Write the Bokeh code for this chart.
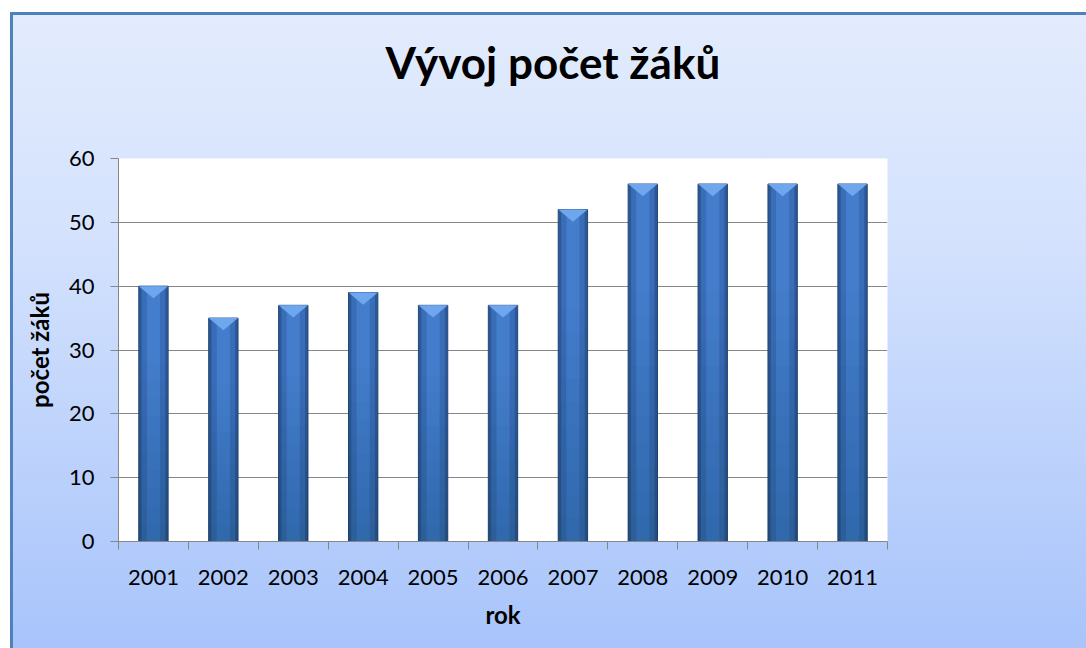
import numpy as np
from bokeh.plotting import figure
from bokeh.models import Range1d, FixedTicker, ColumnDataSource, Title
from bokeh.embed import file_html
from bokeh.resources import INLINE

years = ["2001", "2002", "2003", "2004", "2005", "2006", "2007", "2008", "2009", "2010", "2011"]
counts = [40, 35, 37, 39, 37, 37, 52, 56, 56, 56, 56]
y_ticks = [0, 10, 20, 30, 40, 50, 60]

title_text = "Vývoj počet žáků"
x_label = "rok"
y_label = "počet žáků"

FONT = "Lato"
n = len(years)
xs = np.arange(n, dtype=float)
tops = np.array(counts, dtype=float)

p = figure(width=1076, height=636,
           x_range=Range1d(-0.5, n - 0.5), y_range=Range1d(y_ticks[0], y_ticks[-1]),
           output_backend="svg", toolbar_location=None,
           min_border_left=108, min_border_right=199,
           min_border_top=146, min_border_bottom=107,
           margin=(12, 0, 0, 10),
           styles={"background": "linear-gradient(180deg, #e3ecfd 0%, #d4e2fd 35%, #a8c4fb 100%)",
                   "box-shadow": "inset 3px 3px 0 #4f81bd"})
p.border_fill_color = None
p.background_fill_color = "white"
p.outline_line_color = None

# real title (the built-in title is the outermost "above" panel)
p.title.text = title_text
p.title.text_font = FONT
p.title.text_font_style = "bold"
p.title.text_font_size = "44px"
p.title.text_color = "black"
p.title.align = "left"
p.title.offset = 267
p.title.standoff = 0

# nearly invisible spacer panel between the frame and the title
spacer = Title(text=".", text_font_size="2px", text_color="#d9e5fd",
               text_alpha=0.01, standoff=68)
p.add_layout(spacer, "above")

src = ColumnDataSource(dict(x=xs, top=tops))

# bars: layered to mimic the bevelled gradient
w = 0.42
p.vbar(x="x", top="top", bottom=0, width=w, source=src,
       fill_color="#2c5896", line_color="#234878", line_width=1)
p.vbar(x="x", top="top", bottom=0, width=w * 0.8, source=src,
       fill_color="#3a6db8", line_color=None)
p.vbar(x="x", top="top", bottom=0, width=w * 0.45, source=src,
       fill_color="#4781d0", line_color=None, fill_alpha=0.8)
# darker lower part (soft vertical shading)
for k in range(1, 11):
    p.vbar(x=xs, top=tops * (k / 10.0) * 0.7, bottom=0, width=w, fill_color="#0a1e40",
           fill_alpha=0.018, line_color=None)
# top bevel
bev = 1.9
p.patches(xs=[[x - w / 2, x + w / 2, x] for x in xs],
          ys=[[t, t, t - bev] for t in tops],
          fill_color="#72aaf0", line_color=None, fill_alpha=0.95)

# axes
p.xgrid.visible = False
p.ygrid.ticker = FixedTicker(ticks=y_ticks)
p.ygrid.grid_line_color = "#868686"
p.ygrid.grid_line_width = 1

p.yaxis.ticker = FixedTicker(ticks=y_ticks)
p.yaxis.axis_line_color = "#868686"
p.yaxis.major_tick_line_color = "#868686"
p.yaxis.major_tick_out = 8
p.yaxis.major_tick_in = 0
p.yaxis.minor_tick_line_color = None
p.yaxis.major_label_text_font = FONT
p.yaxis.major_label_text_font_size = "22px"
p.yaxis.major_label_text_color = "black"
p.yaxis.major_label_standoff = 16
p.yaxis.axis_label = y_label
p.yaxis.axis_label_text_font = FONT
p.yaxis.axis_label_text_font_style = "bold"
p.yaxis.axis_label_text_font_size = "24px"
p.yaxis.axis_label_text_color = "black"
p.yaxis.axis_label_standoff = 12

bounds = [i - 0.5 for i in range(n + 1)]
p.xaxis.ticker = FixedTicker(ticks=list(xs), minor_ticks=bounds)
p.xaxis.major_label_overrides = {float(i): years[i] for i in range(n)}
p.xaxis.major_tick_line_color = None
p.xaxis.major_tick_out = 0
p.xaxis.major_tick_in = 0
p.xaxis.minor_tick_line_color = "#868686"
p.xaxis.minor_tick_out = 8
p.xaxis.minor_tick_in = 0
p.xaxis.axis_line_color = "#868686"
p.xaxis.major_label_text_font = FONT
p.xaxis.major_label_text_font_size = "22px"
p.xaxis.major_label_text_color = "black"
p.xaxis.major_label_standoff = 20
p.xaxis.axis_label = x_label
p.xaxis.axis_label_text_font = FONT
p.xaxis.axis_label_text_font_style = "bold"
p.xaxis.axis_label_text_font_size = "24px"
p.xaxis.axis_label_text_color = "black"
p.xaxis.axis_label_standoff = 12

open("out.html", "w").write(file_html(p, INLINE))
